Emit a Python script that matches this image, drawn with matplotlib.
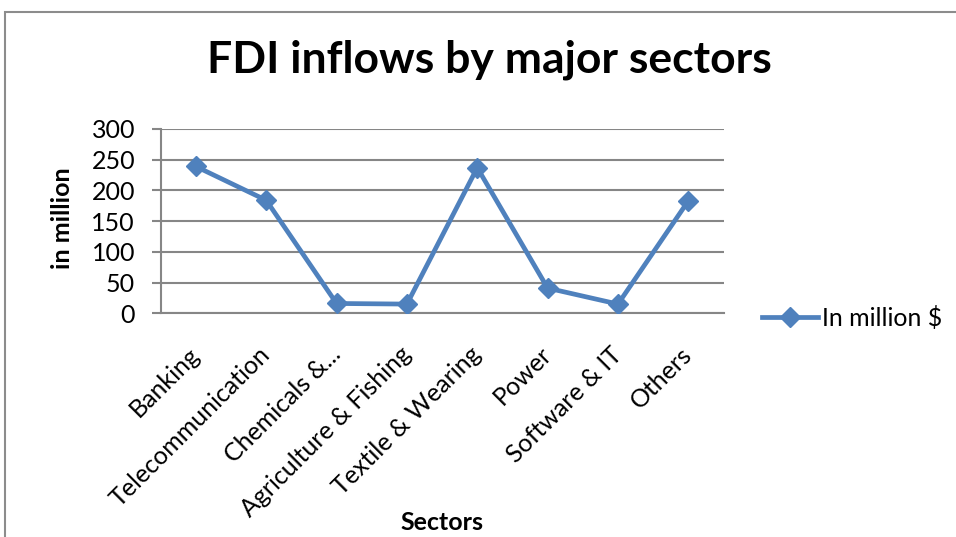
import matplotlib
matplotlib.use("Agg")
import matplotlib.pyplot as plt
from matplotlib.patches import Rectangle

sectors = [
    "Banking",
    "Telecommunication",
    "Chemicals &...",
    "Agriculture & Fishing",
    "Textile & Wearing",
    "Power",
    "Software & IT",
    "Others",
]
fdi_million = [239, 184, 16, 15, 237, 41, 15, 183]
y_ticks = [0, 50, 100, 150, 200, 250, 300]

blue = "#4F81BD"
grid_gray = "#868686"
font = ["Lato", "DejaVu Sans"]

fig = plt.figure(figsize=(9.56, 5.37), dpi=100)
fig.patch.set_facecolor("white")

# chart-area frame
fig.patches.append(Rectangle((5 / 956, -0.05), 1.1, 1 - 12 / 537 + 0.05,
                             transform=fig.transFigure, fill=False,
                             edgecolor="#8c8c8c", linewidth=1.5))

ax = fig.add_axes([160.7 / 956, 1 - 313.3 / 537, (723.5 - 160.7) / 956,
                   (313.3 - 129) / 537])

x = list(range(len(sectors)))
ax.plot(x, fdi_million, color=blue, linewidth=3.4, marker="D",
        markersize=10, label="In million $", zorder=3)

ax.set_xlim(-0.5, len(sectors) - 0.5)
ax.set_ylim(0, 300)
ax.set_yticks(y_ticks)
ax.set_yticklabels([str(v) for v in y_ticks], family=font, fontsize=18)
ax.set_xticks(x)
ax.set_xticklabels(sectors, family=font, fontsize=18, rotation=45,
                   ha="right", va="center", rotation_mode="anchor")
ax.tick_params(axis="x", length=0, pad=27)
ax.tick_params(axis="y", length=6.5, width=1.5, color=grid_gray, pad=12)

ax.grid(axis="y", color=grid_gray, linewidth=1.5)
ax.set_axisbelow(True)
for side in ["top", "right"]:
    ax.spines[side].set_visible(False)
for side in ["left", "bottom"]:
    ax.spines[side].set_color(grid_gray)
    ax.spines[side].set_linewidth(1.5)

fig.text(62 / 956, 1 - 218 / 537, "in million", family=font, fontsize=18,
         fontweight="bold", rotation=90, ha="center", va="center")
fig.text(442 / 956, 1 - 522 / 537, "Sectors", family=font, fontsize=18,
         fontweight="bold", ha="center", va="center")

fig.text(489 / 956, 1 - 60 / 537, "FDI inflows by major sectors",
         family=font, fontsize=32, fontweight="bold", ha="center",
         va="center")

ax.legend(loc="center left", bbox_to_anchor=(762 / 956, 1 - 318 / 537),
          bbox_transform=fig.transFigure, frameon=False,
          prop={"family": font, "size": 18}, handlelength=2.25,
          handletextpad=0.15, borderaxespad=0, borderpad=0)

fig.savefig("out.png", dpi=100)
